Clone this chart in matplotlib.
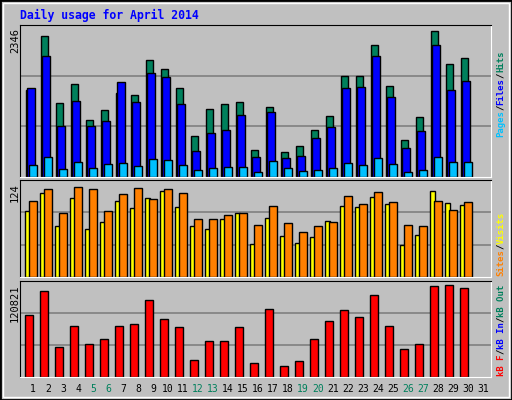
import numpy as np
import matplotlib.pyplot as plt
from matplotlib.patches import Rectangle

# --- Data ---
days = np.arange(1, 31)
weekend = [5, 6, 12, 13, 19, 20, 26, 27]

hits = [1340, 2170, 1140, 1430, 880, 1030, 1290, 1260, 1810, 1660, 1380, 630, 1050, 1130, 1160, 420, 1080, 390, 480, 730, 940, 1560, 1560, 2030, 1400, 570, 930, 2260, 1740, 1840]
files = [1380, 1870, 790, 1180, 790, 860, 1460, 1150, 1610, 1550, 1130, 400, 680, 730, 960, 310, 1000, 300, 330, 600, 770, 1380, 1390, 1860, 1230, 450, 710, 2030, 1350, 1480]
pages = [190, 310, 130, 230, 140, 200, 220, 170, 280, 260, 190, 110, 140, 160, 160, 80, 250, 140, 100, 110, 140, 220, 190, 300, 200, 80, 110, 310, 230, 230]
visits = [87, 111, 67, 104, 63, 73, 100, 91, 104, 114, 92, 67, 63, 76, 85, 44, 78, 54, 45, 53, 74, 94, 92, 105, 96, 42, 55, 113, 98, 95]
sites = [100, 116, 85, 119, 116, 87, 110, 117, 103, 116, 111, 76, 77, 82, 85, 69, 94, 71, 59, 67, 72, 107, 96, 112, 99, 68, 67, 100, 89, 99]
kb_f = [77500, 108000, 38100, 64700, 41900, 48300, 64700, 67300, 96400, 73500, 63400, 20900, 45300, 45300, 63400, 17100, 85900, 13300, 19600, 48300, 71000, 83700, 76100, 102900, 64700, 35600, 41900, 114300, 115500, 111700]

bg = '#C0C0C0'
W, H = 512, 400

fig = plt.figure(figsize=(W / 100, H / 100), dpi=100, facecolor=bg)

def px_axes(x0, y0, x1, y1):
    # axes from pixel box (top-left origin)
    ax = fig.add_axes([x0 / W, 1 - y1 / H, (x1 - x0) / W, (y1 - y0) / H])
    ax.set_facecolor(bg)
    ax.set_xticks([])
    ax.set_yticks([])
    ax.set_xlim(0, (x1 - x0) / 15)
    for s in ['top', 'left']:
        ax.spines[s].set_color('black')
    for s in ['bottom', 'right']:
        ax.spines[s].set_color('white')
    return ax

def bars(ax, vals, off, w, color, vmax):
    x = days - 1 + off / 15
    ax.bar(x, vals, width=w / 15, align='edge', color=color, edgecolor='black', linewidth=1.0)
    ax.set_ylim(0, vmax)

def grid(ax, vmax):
    for f in (1 / 3, 2 / 3):
        ax.axhline(vmax * f, color='#808080', lw=1.2, zorder=0)

# top panel: hits / files / pages
ax1 = px_axes(20, 25, 491, 177)
grid(ax1, 2346)
bars(ax1, hits, 5.7, 7, '#00805C', 2346)
bars(ax1, files, 7.2, 7.5, '#0000FF', 2346)
bars(ax1, pages, 9.3, 7.3, '#00C0FF', 2346)

# middle panel: visits / sites
ax2 = px_axes(20, 180, 491, 277)
grid(ax2, 128)
bars(ax2, visits, 5.3, 4.7, '#FFFF00', 128)
bars(ax2, sites, 9.3, 7.3, '#FF8000', 128)

# bottom panel: kB
ax3 = px_axes(20, 281, 491, 377)
grid(ax3, 120821)
bars(ax3, kb_f, 5.3, 7.3, '#FF0000', 120821)

mono = 'DejaVu Sans Mono'
fig.text(20 / W, 1 - 15 / H, 'Daily usage for April 2014', color='#0000FF',
         family=mono, fontweight='bold', fontsize=8.3, va='center')

# left scale labels
for y, t in [(28, '2346'), (183, '124'), (284, '120821')]:
    fig.text(15 / W, 1 - y / H, t, rotation=90, ha='center', va='top',
             family=mono, fontsize=7.5, color='black')

renderer = fig.canvas.get_renderer()

# right side legends (rotated, multicoloured), stacked by measured size
def right_label(ybottom, parts):
    y = ybottom
    for txt, col in parts:
        t = fig.text(501 / W, 1 - y / H, txt, rotation=90, ha='center', va='bottom',
                     family=mono, fontweight='bold', fontsize=6.5, color=col)
        y -= t.get_window_extent(renderer).height

right_label(137, [('Pages', '#00C0FF'), ('/', 'black'), ('Files', '#0000FF'), ('/', 'black'), ('Hits', '#00805C')])
right_label(276, [('Sites', '#FF8000'), ('/', 'black'), ('Visits', '#FFFF00')])
right_label(376, [('kB F', '#FF0000'), ('/', 'black'), ('kB In', '#0000FF'), ('/', 'black'), ('kB Out', '#00805C')])

# day labels
for d in range(1, 32):
    col = '#00805C' if d in weekend else 'black'
    fig.text((20 + (d - 1) * 15 + 13) / W, 1 - 389 / H, str(d), ha='center', va='center',
             family=mono, fontsize=7, color=col)

# figure border
fig.patches.append(Rectangle((0, 0), 1, 1, transform=fig.transFigure, fill=False,
                             edgecolor='black', lw=2))
fig.patches.append(Rectangle((3 / W, 3 / H), 1 - 6 / W, 1 - 6 / H, transform=fig.transFigure,
                             fill=False, edgecolor='white', lw=1))

fig.savefig('out.png', dpi=100, facecolor=bg)
